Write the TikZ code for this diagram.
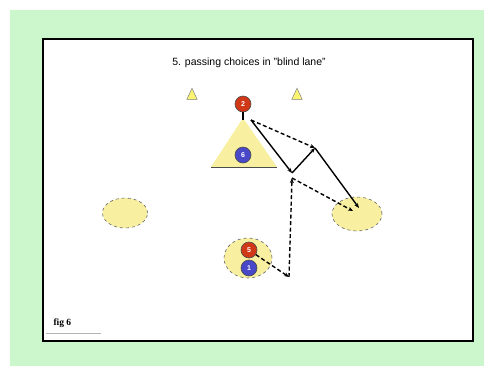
\documentclass[tikz,border=0pt]{standalone}
\usepackage{fontspec}
\setmainfont{Liberation Serif}
\setsansfont{Liberation Sans}
\usetikzlibrary{arrows.meta,shapes.geometric}
\definecolor{bggreen}{HTML}{CCF7CC}
\definecolor{zoneyel}{HTML}{F8F0A0}
\definecolor{pred}{HTML}{D03818}
\definecolor{pblue}{HTML}{4848C8}
\begin{document}
\begin{tikzpicture}[x=1pt,y=-1pt,
  player/.style={circle,draw=black!70,line width=0.6pt,minimum size=16pt,inner sep=0pt,font=\sffamily\fontsize{7}{8}\selectfont\bfseries,text=white},
  zone/.style={ellipse,draw=black!60,dashed,fill=zoneyel,line width=0.6pt},
  cone/.style={isosceles triangle,isosceles triangle apex angle=50,shape border rotate=90,fill=zoneyel!70!yellow,draw=black!50,line width=0.5pt,minimum height=11pt,minimum width=9pt,inner sep=0pt},
  run/.style={line width=1.4pt,-{Stealth[length=5pt,width=4pt]}},
  pass/.style={line width=1.4pt,dash pattern=on 4pt off 2.5pt,-{Stealth[length=5pt,width=4pt]}}]
\useasboundingbox (0,0) rectangle (491,373);
\fill[white] (0,0) rectangle (491,373);
\fill[bggreen] (10,10) rectangle (484,366);
\draw[line width=2.8pt,fill=white] (43,39) rectangle (473,341);
\node[font=\sffamily\fontsize{10.5}{12}\selectfont] (title) at (249,63) {5. passing choices in "blind lane"};
% cones
\node[cone] (c1) at (192,96) {};
\node[cone] (c2) at (297,96) {};
% zones
\node[zone,minimum width=45pt,minimum height=30pt] (zl) at (125,213) {};
\node[zone,minimum width=50pt,minimum height=34pt] (zr) at (357,214) {};
\node[zone,minimum width=48pt,minimum height=40pt] (zb) at (248,258) {};
% triangle zone
\path[fill=zoneyel] (243,118) -- (277,167) -- (211,167) -- cycle;
\coordinate (tl) at (211,167);
\coordinate (tr) at (277,167);
\draw[line width=1pt,black!70] (tl) -- (tr);
% players
\node[player,fill=pred] (p2) at (243,104) {2};
\node[player,fill=pblue] (p6) at (243,155) {6};
\node[player,fill=pred] (p5) at (249,250) {5};
\node[player,fill=pblue] (p1) at (249,268) {1};
\coordinate (a) at (251,120);
\coordinate (b) at (292,173);
\coordinate (c) at (315,148);
\coordinate (d) at (359,208);
\coordinate (b2) at (292,178);
\coordinate (e) at (353,211);
\coordinate (f) at (289,277);
\draw[line width=1.4pt] (p2.south) -- (243,120);
\draw[run] (a) -- (b);
\draw[run] (b) -- (c);
\draw[run] (c) -- (d);
\draw[pass] (a) -- (c);
\draw[pass] (b2) -- (e);
\draw[pass] (f) -- (b2);
\draw[pass] (p5) -- (f);
% fig label
\node[font=\fontsize{9.5}{10}\selectfont\bfseries,anchor=west] (fig) at (50,323) {fig 6};
\coordinate (u1) at (46,333);
\coordinate (u2) at (101,333);
\draw[black!30,line width=1pt] (u1) -- (u2);
\end{tikzpicture}
\end{document}
